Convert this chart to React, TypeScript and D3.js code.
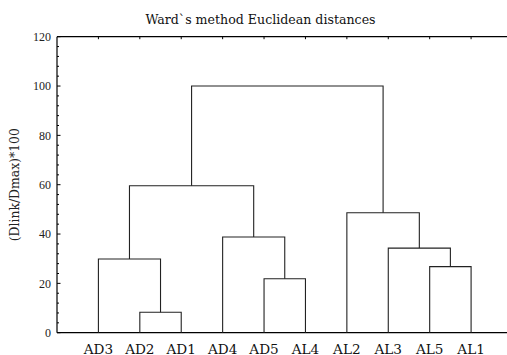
import React from "react";
import * as d3 from "d3";

const leaves = ["AD3", "AD2", "AD1", "AD4", "AD5", "AL4", "AL2", "AL3", "AL5", "AL1"];
// merge table: left node, right node (indices >= 10 refer to earlier merges), linkage height
const mergeLeft = [1, 4, 0, 3, 8, 7, 6, 12, 17];
const mergeRight = [2, 5, 10, 11, 9, 14, 15, 13, 16];
const mergeHeight = [8.3, 21.9, 29.9, 38.8, 26.8, 34.3, 48.6, 59.6, 100];
const yTicks = [0, 20, 40, 60, 80, 100, 120];
const title = "Ward`s method Euclidean distances";
const yLabel = "(Dlink/Dmax)*100";

const W = 507, H = 355;
const plot = { left: 57, top: 36.7, right: 512.5, bottom: 332.7 };

export default function App() {
  const x = d3.scaleLinear().domain([0, 11]).range([plot.left, plot.right]);
  const y = d3.scaleLinear().domain([0, 120]).range([plot.bottom, plot.top]);

  const pos: number[] = leaves.map((_, i) => i + 1);
  const hgt: number[] = leaves.map(() => 0);
  const paths: string[] = [];
  mergeLeft.forEach((l, k) => {
    const r = mergeRight[k];
    const h = mergeHeight[k];
    const p = d3.path();
    p.moveTo(x(pos[l]), y(hgt[l]));
    p.lineTo(x(pos[l]), y(h));
    p.lineTo(x(pos[r]), y(h));
    p.lineTo(x(pos[r]), y(hgt[r]));
    paths.push(p.toString());
    pos.push((pos[l] + pos[r]) / 2);
    hgt.push(h);
  });

  const minor = d3.range(0, 121, 4).filter((v) => v % 20 !== 0);
  const serif = "'DejaVu Serif', serif";
  const tickFont = "'Liberation Serif', serif";

  return (
    <svg width={W} height={H} style={{ position: "absolute", left: 0, top: 0 }} fontFamily={serif}>
      <rect width={W} height={H} fill="#fff" />
      <text x={260.5} y={23.5} textAnchor="middle" fontSize={12.6} fill="#111">
        {title}
      </text>
      {/* frame */}
      <line x1={plot.left} x2={plot.right} y1={plot.top} y2={plot.top} stroke="#000" strokeWidth={1.2} />
      <line x1={plot.left} x2={plot.right} y1={plot.bottom} y2={plot.bottom} stroke="#000" strokeWidth={1.2} />
      <line x1={plot.left} x2={plot.left} y1={plot.top} y2={plot.bottom} stroke="#000" strokeWidth={1.2} />
      {leaves.map((_, i) => (
        <line key={"tt" + i} x1={x(i + 1)} x2={x(i + 1)} y1={plot.top} y2={plot.top + 2.5} stroke="#000" />
      ))}
      {yTicks.map((t) => (
        <g key={"y" + t}>
          <line x1={plot.left} x2={plot.left + 3.5} y1={y(t)} y2={y(t)} stroke="#000" />
          <text x={plot.left - 6} y={y(t)} dy="0.35em" textAnchor="end" fontSize={12} fontFamily={tickFont} fill="#222">
            {t}
          </text>
        </g>
      ))}
      {minor.map((t) => (
        <line key={"m" + t} x1={plot.left} x2={plot.left + 2} y1={y(t)} y2={y(t)} stroke="#000" />
      ))}
      <text
        transform={`translate(19,${(plot.top + plot.bottom) / 2}) rotate(-90)`}
        textAnchor="middle"
        fontSize={12.4}
        fill="#222"
      >
        {yLabel}
      </text>
      {paths.map((d, i) => (
        <path key={"p" + i} d={d} fill="none" stroke="#222" strokeWidth={1.1} />
      ))}
      {leaves.map((l, i) => (
        <text key={l} x={x(i + 1)} y={353.5} textAnchor="middle" fontSize={13.6} fill="#111">
          {l}
        </text>
      ))}
    </svg>
  );
}
